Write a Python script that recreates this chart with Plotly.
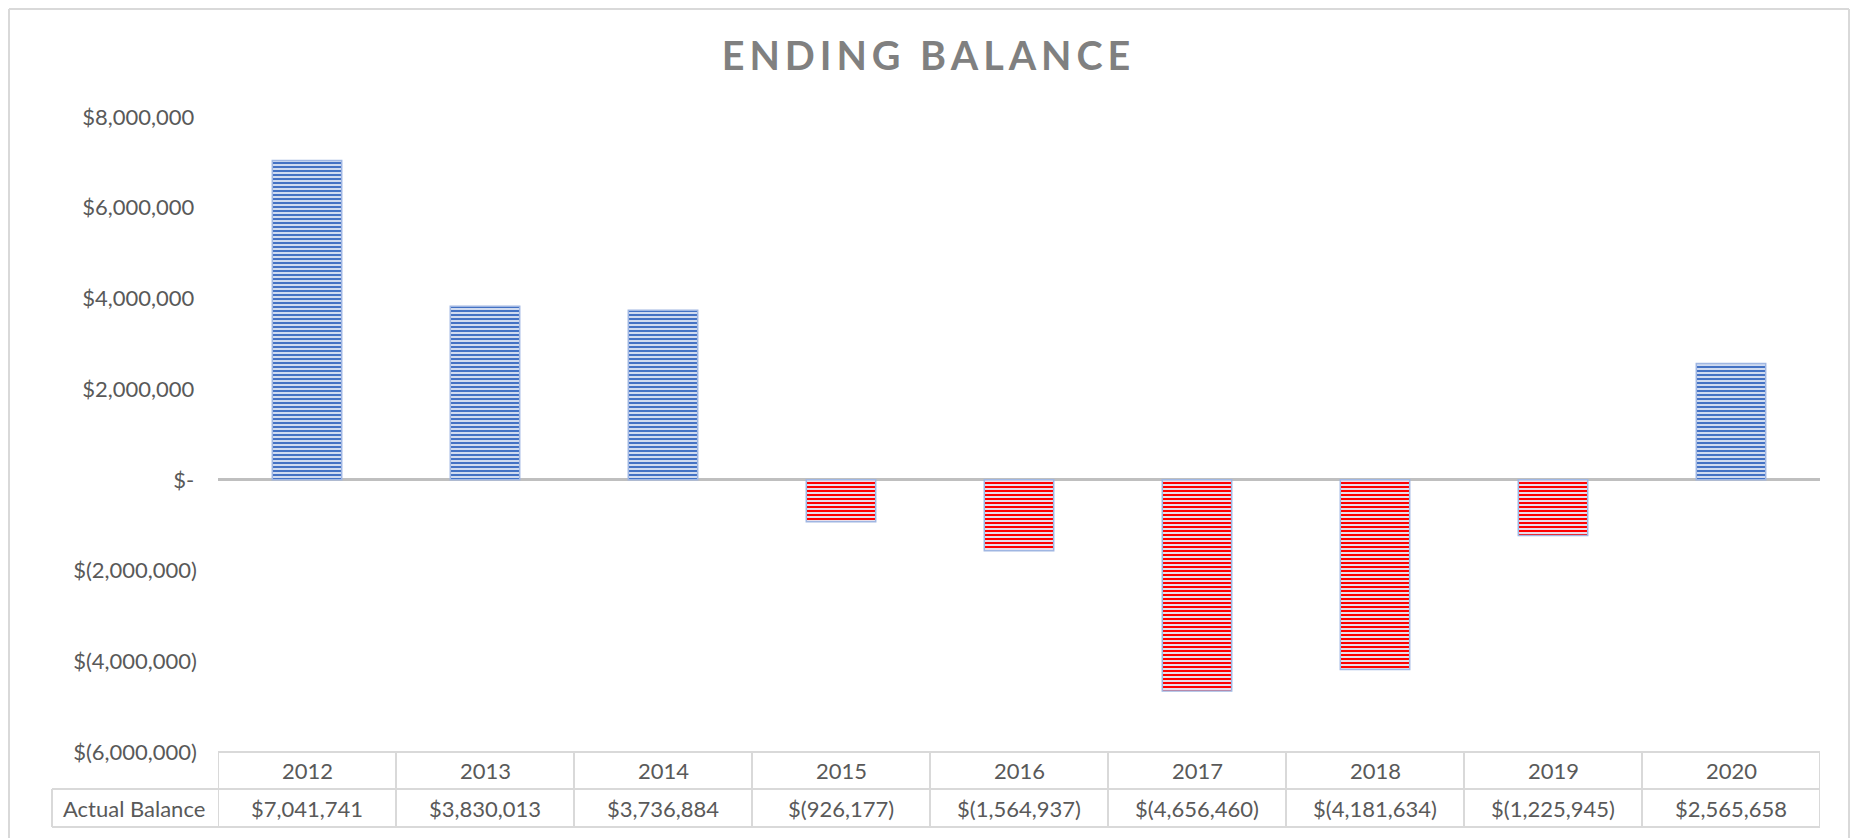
import plotly.graph_objects as go

# ---- data ----
years = ["2012", "2013", "2014", "2015", "2016", "2017", "2018", "2019", "2020"]
balances = [7041741, 3830013, 3736884, -926177, -1564937, -4656460, -4181634, -1225945, 2565658]
row_label = "Actual Balance"
title_text = "ENDING BALANCE"
y_tick_values = [-6000000, -4000000, -2000000, 0, 2000000, 4000000, 6000000, 8000000]
y_tick_labels = ["$(6,000,000)", "$(4,000,000)", "$(2,000,000)", "$-\u2009",
                 "$2,000,000\u2009", "$4,000,000\u2009", "$6,000,000\u2009", "$8,000,000\u2009"]


def money(v):
    return f"${v:,}" if v >= 0 else f"$({-v:,})"


FONT = "Lato, 'Open Sans', sans-serif"
TXT = "#595959"
GRID = "#d9d9d9"

# the graph div starts 8px into the page (body margin) and fills the rest
OFF = 8
PW, PH = 1859, 838
W, H = PW - OFF, PH - OFF
# plot area in page pixels
PL, PR, PT, PB = 218, 1820, 117, 752
L, T = PL - OFF, PT - OFF
R, B = PW - PR, PH - PB
pw, ph = PR - PL, PB - PT


def px_x(x):
    return (x - PL) / pw


def px_y(y):
    return (PB - y) / ph


pos_idx = [i for i, v in enumerate(balances) if v >= 0]
neg_idx = [i for i, v in enumerate(balances) if v < 0]

fig = go.Figure()
fig.add_trace(go.Bar(
    x=pos_idx, y=[balances[i] for i in pos_idx], width=0.39,
    marker=dict(
        color="#d0dbf0",
        line=dict(color="#9fb6e2", width=1.5),
        pattern=dict(shape="-", fgcolor="#4472c4", fgopacity=1, size=4, solidity=0.5, fillmode="overlay"),
    ),
    hoverinfo="skip", showlegend=False,
))
fig.add_trace(go.Bar(
    x=neg_idx, y=[balances[i] for i in neg_idx], width=0.39,
    marker=dict(
        color="#e8dde9",
        line=dict(color="#9fb6e2", width=1.5),
        pattern=dict(shape="-", fgcolor="#ff0000", fgopacity=1, size=4, solidity=0.5, fillmode="overlay"),
    ),
    hoverinfo="skip", showlegend=False,
))

shapes = []
line = dict(color=GRID, width=2)
y_top, y_mid, y_bot = px_y(752), px_y(789), px_y(827)
shapes.append(dict(type="line", xref="paper", yref="paper", x0=0, x1=1, y0=y_top, y1=y_top, line=line))
shapes.append(dict(type="line", xref="paper", yref="paper", x0=px_x(52), x1=1, y0=y_mid, y1=y_mid, line=line))
shapes.append(dict(type="line", xref="paper", yref="paper", x0=px_x(52), x1=1, y0=y_bot, y1=y_bot, line=line))
shapes.append(dict(type="line", xref="paper", yref="paper", x0=px_x(52), x1=px_x(52), y0=y_mid, y1=y_bot, line=line))
for i in range(len(years) + 1):
    xv = i - 0.5
    shapes.append(dict(type="line", xref="x", yref="paper", x0=xv, x1=xv, y0=y_top, y1=y_bot, line=line))
border = dict(color="#d9d9d9", width=2)
shapes.append(dict(type="line", xref="paper", yref="paper", x0=px_x(9), x1=px_x(9), y0=px_y(9), y1=px_y(860), line=border))
shapes.append(dict(type="line", xref="paper", yref="paper", x0=px_x(9), x1=px_x(1849), y0=px_y(9), y1=px_y(9), line=border))
shapes.append(dict(type="line", xref="paper", yref="paper", x0=px_x(1849), x1=px_x(1849), y0=px_y(9), y1=px_y(860), line=border))

annotations = []
tfont = dict(family=FONT, size=22, color=TXT)
for i, (yr, v) in enumerate(zip(years, balances)):
    annotations.append(dict(x=i, xref="x", y=px_y(770.5), yref="paper", text=yr, showarrow=False,
                            font=tfont, xanchor="center", yanchor="middle"))
    annotations.append(dict(x=i, xref="x", y=px_y(808), yref="paper", text=money(v), showarrow=False,
                            font=tfont, xanchor="center", yanchor="middle"))
annotations.append(dict(x=px_x(134), xref="paper", y=px_y(808), yref="paper", text=row_label, showarrow=False,
                        font=tfont, xanchor="center", yanchor="middle"))

spaced_title = "\u2009".join(title_text)

fig.update_layout(
    width=W, height=H,
    margin=dict(l=L, r=R, t=T, b=B, autoexpand=False),
    paper_bgcolor="white", plot_bgcolor="white",
    title=dict(text=spaced_title, x=(926 - OFF) / W, xref="container", xanchor="center",
               y=1 - (56 - OFF) / H, yref="container", yanchor="middle",
               font=dict(family=FONT, size=39.5, color="#808080", weight="bold")),
    xaxis=dict(showticklabels=False, showgrid=False, zeroline=False,
               showline=False, ticks="", range=[-0.5, len(years) - 0.5], fixedrange=True),
    yaxis=dict(range=[-6000000, 8000000], tickvals=y_tick_values, ticktext=y_tick_labels,
               showgrid=False, zeroline=True, zerolinecolor="#bfbfbf", zerolinewidth=3,
               showline=False, ticks="", ticklabelstandoff=20,
               tickfont=tfont, fixedrange=True),
    shapes=shapes, annotations=annotations,
    barmode="overlay",
)

fig.write_html("out.html")
